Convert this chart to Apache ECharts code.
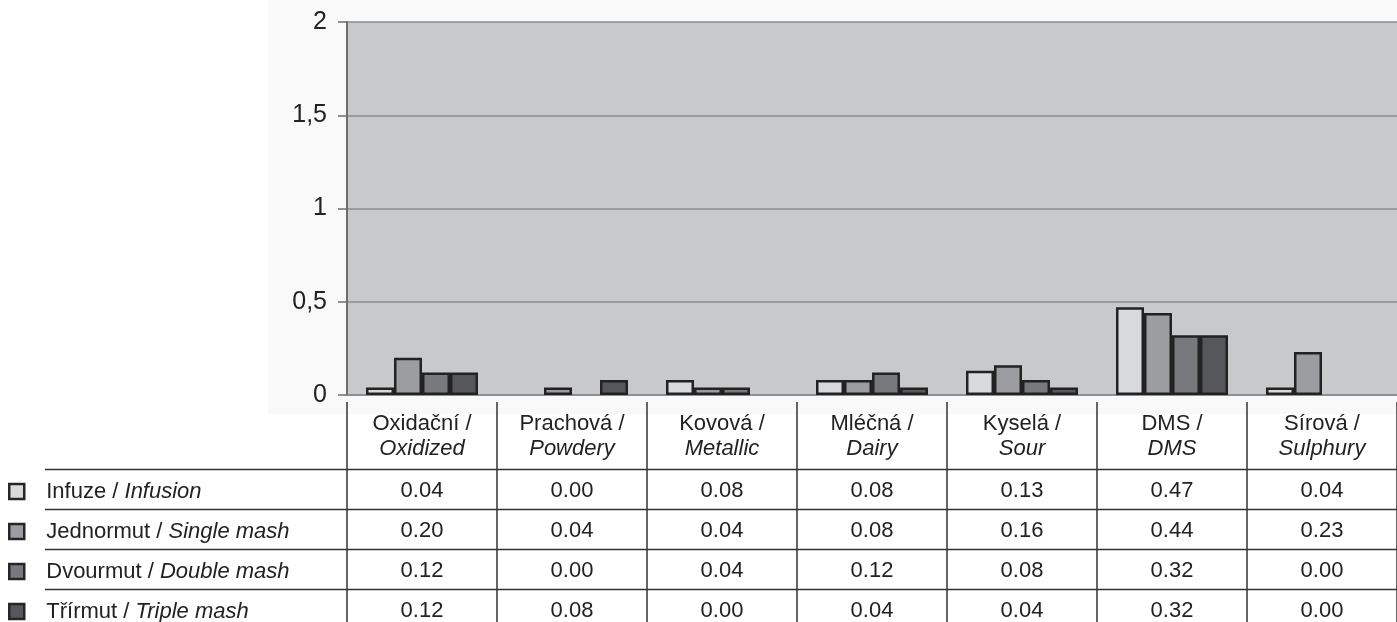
<!DOCTYPE html>
<html>
<head>
<meta charset="utf-8">
<script src="https://cdn.jsdelivr.net/npm/echarts@6/dist/echarts.min.js"></script>
<style>
  html, body { margin: 0; padding: 0; background: #ffffff; }
  #chart { width: 1397px; height: 622px; }
</style>
</head>
<body>
<div id="chart"></div>
<script>
// Off-flavour categories (Czech / English)
const categoriesCz = ['Oxidační', 'Prachová', 'Kovová', 'Mléčná', 'Kyselá', 'DMS', 'Sírová'];
const categoriesEn = ['Oxidized', 'Powdery', 'Metallic', 'Dairy', 'Sour', 'DMS', 'Sulphury'];

// Mashing methods (Czech / English)
const seriesCz = ['Infuze', 'Jednormut', 'Dvourmut', 'Třírmut'];
const seriesEn = ['Infusion', 'Single mash', 'Double mash', 'Triple mash'];

// Mean intensity per category
const infusion   = [0.04, 0.00, 0.08, 0.08, 0.13, 0.47, 0.04];
const singleMash = [0.20, 0.04, 0.04, 0.08, 0.16, 0.44, 0.23];
const doubleMash = [0.12, 0.00, 0.04, 0.12, 0.08, 0.32, 0.00];
const tripleMash = [0.12, 0.08, 0.00, 0.04, 0.04, 0.32, 0.00];
const seriesValues = [infusion, singleMash, doubleMash, tripleMash];

// Value axis ticks
const yTicks = [0, 0.5, 1, 1.5, 2];

const barColors = ['#d9dadc', '#9c9da0', '#78797c', '#56575a'];
const FONT = '"Liberation Sans", Arial, Helvetica, sans-serif';
const TEXT = '#222222';
const FS = 22;

const chart = echarts.init(document.getElementById('chart'), null, { renderer: 'canvas' });

const labels = categoriesCz.map((c, i) => c + ' / ' + categoriesEn[i]);

// x axes: header labels, table column dividers, one axis per table row
const xAxes = [
  {
    type: 'category', data: labels, gridIndex: 0, position: 'bottom',
    axisLine: { show: true, lineStyle: { color: '#8a8a8a', width: 1.5 } },
    axisTick: { show: false },
    axisLabel: {
      interval: 0, margin: 16, fontFamily: FONT, color: TEXT,
      formatter: (v, i) => '{a|' + categoriesCz[i] + ' /}\n{b|' + categoriesEn[i] + '}',
      rich: {
        a: { fontFamily: FONT, fontSize: FS, lineHeight: 25, color: TEXT },
        b: { fontFamily: FONT, fontSize: FS, lineHeight: 25, color: TEXT, fontStyle: 'italic' }
      }
    }
  },
  {
    type: 'category', data: labels, gridIndex: 0, position: 'bottom', offset: 7,
    axisLine: { show: false },
    axisTick: { show: true, length: 230, lineStyle: { color: '#333333', width: 1.5 } },
    axisLabel: { show: false }
  }
];
seriesValues.forEach((vals, r) => {
  xAxes.push({
    type: 'category', data: labels, gridIndex: 0, position: 'bottom', offset: 85 + 40 * r,
    axisLine: { show: false }, axisTick: { show: false },
    axisLabel: {
      interval: 0, margin: 0, fontFamily: FONT, fontSize: FS, lineHeight: 22, color: TEXT,
      formatter: (v, i) => vals[i].toFixed(2)
    }
  });
});

// horizontal rules of the data table
const tableRules = [469.5, 509.5, 549.5, 589.5].map(y => ({
  type: 'line', silent: true,
  shape: { x1: 45, y1: y, x2: 1397, y2: y },
  style: { stroke: '#333333', lineWidth: 1.5 }
}));

const option = {
  animation: false,
  backgroundColor: '#ffffff',
  graphic: [
    { type: 'rect', silent: true, z: -10, shape: { x: 268, y: 0, width: 1129, height: 414 }, style: { fill: '#f9f9f9' } }
  ].concat(tableRules),
  grid: {
    left: 347, top: 22, width: 1057, height: 374,
    show: true, backgroundColor: '#c8c9cb', borderWidth: 0
  },
  legend: {
    orient: 'vertical', left: 8, top: 480.5, height: 200, padding: 0, itemGap: 18,
    itemWidth: 15, itemHeight: 15, icon: 'rect', selectedMode: false,
    itemStyle: { borderColor: '#262626', borderWidth: 2.5 },
    textStyle: { fontFamily: FONT, fontSize: FS, lineHeight: 22, color: TEXT, padding: [0, 0, 0, 17] },
    formatter: name => {
      const i = seriesCz.indexOf(name);
      return '{a|' + seriesCz[i] + ' / }{b|' + seriesEn[i] + '}';
    },
    data: seriesCz
  },
  xAxis: xAxes,
  yAxis: {
    type: 'value', min: yTicks[0], max: yTicks[yTicks.length - 1], interval: 0.5,
    axisLine: { show: true, lineStyle: { color: '#6e6e6e', width: 2 } },
    axisTick: { show: true, length: 9, lineStyle: { color: '#6e6e6e', width: 1.5 } },
    axisLabel: {
      margin: 20, fontFamily: FONT, fontSize: 25, color: TEXT,
      formatter: v => String(v).replace('.', ',')
    },
    splitLine: { show: true, lineStyle: { color: '#8a8a8a', width: 1.5 } }
  },
  series: seriesValues.map((vals, r) => ({
    name: seriesCz[r],
    type: 'bar',
    xAxisIndex: 0,
    barWidth: 28,
    barGap: '0%',
    data: vals.map(v => (v === 0 ? null : v)),
    itemStyle: { color: barColors[r], borderColor: '#222222', borderWidth: 2.5 }
  }))
};

// rich styles for legend labels
option.legend.textStyle.rich = {
  a: { fontFamily: FONT, fontSize: FS, color: TEXT, lineHeight: 22 },
  b: { fontFamily: FONT, fontSize: FS, color: TEXT, lineHeight: 22, fontStyle: 'italic' }
};

chart.setOption(option);
</script>
</body>
</html>
